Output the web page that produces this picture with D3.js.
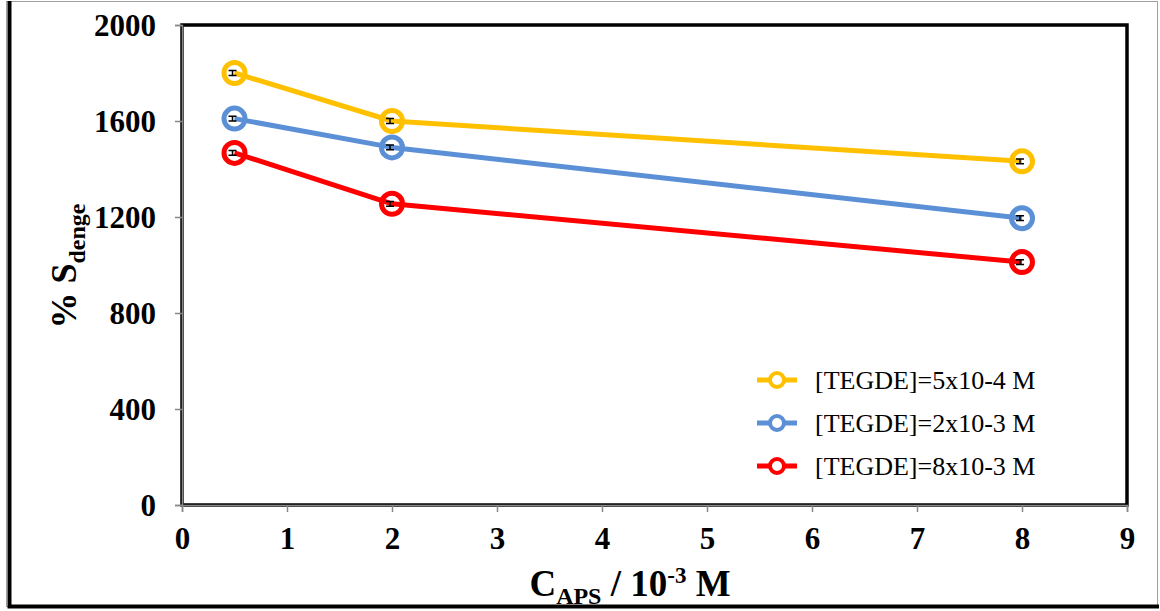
<!DOCTYPE html>
<html>
<head>
<meta charset="utf-8">
<script src="https://cdn.jsdelivr.net/npm/d3@7"></script>
<style>
  html, body { margin: 0; padding: 0; background: #fff; }
  svg { display: block; }
</style>
</head>
<body>
<div id="chart"></div>
<script>
// data
const xValues = [0.5, 2, 8];
const seriesNames = ["[TEGDE]=5x10-4 M", "[TEGDE]=2x10-3 M", "[TEGDE]=8x10-3 M"];
const yellowValues = [1800, 1600, 1432];
const blueValues = [1610, 1490, 1195];
const redValues = [1467, 1255, 1012];
const errorValues = [10, 10, 10];
const xTicks = [0, 1, 2, 3, 4, 5, 6, 7, 8, 9];
const yTicks = [0, 400, 800, 1200, 1600, 2000];
const colors = ["#ffc000", "#5b8fd6", "#ff0000"];

const width = 1160, height = 611;
const margin = { top: 25, right: 33, bottom: 106, left: 182 };
const innerW = width - margin.left - margin.right;
const innerH = height - margin.top - margin.bottom;

const svg = d3.select("#chart").append("svg")
    .attr("width", width)
    .attr("height", height);

// outer frame: thin grey box with heavy black left and bottom edges
svg.append("rect")
    .attr("x", 6.5).attr("y", 1.5)
    .attr("width", 1151).attr("height", 605)
    .attr("fill", "none").attr("stroke", "#a0a0a0").attr("stroke-width", 1);
svg.append("path")
    .attr("d", "M9.5,1 V606.5 H1159")
    .attr("fill", "none").attr("stroke", "#000").attr("stroke-width", 4);

const g = svg.append("g")
    .attr("transform", `translate(${margin.left},${margin.top})`);

const x = d3.scaleLinear().domain([0, 9]).range([0, innerW]);
const y = d3.scaleLinear().domain([0, 2000]).range([innerH, 0]);

// plot frame
g.append("rect")
    .attr("x", 0).attr("y", 0)
    .attr("width", innerW).attr("height", innerH)
    .attr("fill", "none").attr("stroke", "#000").attr("stroke-width", 3.5);

// axes
const fontTick = "'Liberation Serif', 'Times New Roman', serif";

const xAxis = g.append("g")
    .attr("transform", `translate(0,${innerH})`)
    .call(d3.axisBottom(x).tickValues(xTicks).tickSize(7).tickPadding(15).tickFormat(d3.format("d")));
const yAxis = g.append("g")
    .call(d3.axisLeft(y).tickValues(yTicks).tickSize(7).tickPadding(19).tickFormat(d3.format("d")));

[xAxis, yAxis].forEach(a => {
    a.select(".domain").attr("stroke", "#888").attr("stroke-width", 1.5);
    a.selectAll(".tick line").attr("stroke", "#888").attr("stroke-width", 1.5);
    a.selectAll(".tick text")
        .attr("fill", "#000")
        .style("font-family", fontTick)
        .style("font-weight", "bold")
        .style("font-size", "31px");
});
xAxis.selectAll(".tick text").attr("dy", "0.72em");
yAxis.selectAll(".tick text").attr("dy", "0.34em");

// series
const series = [yellowValues, blueValues, redValues].map((vals, i) => ({
    name: seriesNames[i],
    color: colors[i],
    points: vals.map((v, j) => ({ x: xValues[j], y: v, e: errorValues[j] }))
}));

const line = d3.line().x(d => x(d.x)).y(d => y(d.y));

const sg = g.selectAll(".series").data(series).join("g").attr("class", "series");

sg.append("path")
    .attr("d", d => line(d.points))
    .attr("fill", "none")
    .attr("stroke", d => d.color)
    .attr("stroke-width", 5)
    .attr("stroke-linejoin", "round");

sg.each(function (s) {
    const sel = d3.select(this);
    // small error bars
    const eb = sel.selectAll(".err").data(s.points).join("g").attr("class", "err");
    eb.append("path")
        .attr("d", d => {
            const cx = x(d.x) - 2, y1 = y(d.y + d.e), y2 = y(d.y - d.e);
            return `M${cx - 4},${y1} H${cx + 4} M${cx},${y1} V${y2} M${cx - 4},${y2} H${cx + 4}`;
        })
        .attr("stroke", "#000").attr("stroke-width", 1.5).attr("fill", "none");
    sel.selectAll("circle").data(s.points).join("circle")
        .attr("cx", d => x(d.x))
        .attr("cy", d => y(d.y))
        .attr("r", 10.5)
        .attr("fill", "none")
        .attr("stroke", s.color)
        .attr("stroke-width", 5);
});

// legend
const legend = svg.append("g").attr("transform", "translate(757,380)");
const li = legend.selectAll("g").data(series).join("g")
    .attr("transform", (d, i) => `translate(0,${i * 43})`);
li.append("line")
    .attr("x1", 0).attr("x2", 40).attr("y1", 0).attr("y2", 0)
    .attr("stroke", d => d.color).attr("stroke-width", 5);
li.append("circle")
    .attr("cx", 20).attr("cy", 0).attr("r", 7)
    .attr("fill", "#fff").attr("stroke", d => d.color).attr("stroke-width", 4);
li.append("text")
    .attr("x", 58).attr("y", 0).attr("dy", "0.35em")
    .style("font-family", fontTick)
    .style("font-size", "26px")
    .text(d => d.name);

// axis titles
const xt = svg.append("text")
    .attr("x", 630).attr("y", 596)
    .attr("text-anchor", "middle")
    .style("font-family", fontTick)
    .style("font-weight", "bold")
    .style("font-size", "37px");
xt.append("tspan").text("C");
xt.append("tspan").attr("dy", 8).style("font-size", "24px").text("APS");
xt.append("tspan").attr("dy", -8).text(" / 10");
xt.append("tspan").attr("dy", -13).style("font-size", "23px").text("-3");
xt.append("tspan").attr("dy", 13).text(" M");

const yt = svg.append("text")
    .attr("transform", "translate(76,266) rotate(-90)")
    .attr("text-anchor", "middle")
    .style("font-family", fontTick)
    .style("font-weight", "bold")
    .style("font-size", "36px");
yt.append("tspan").text("% S");
yt.append("tspan").attr("dy", 9).style("font-size", "24px").text("denge");
</script>
</body>
</html>
